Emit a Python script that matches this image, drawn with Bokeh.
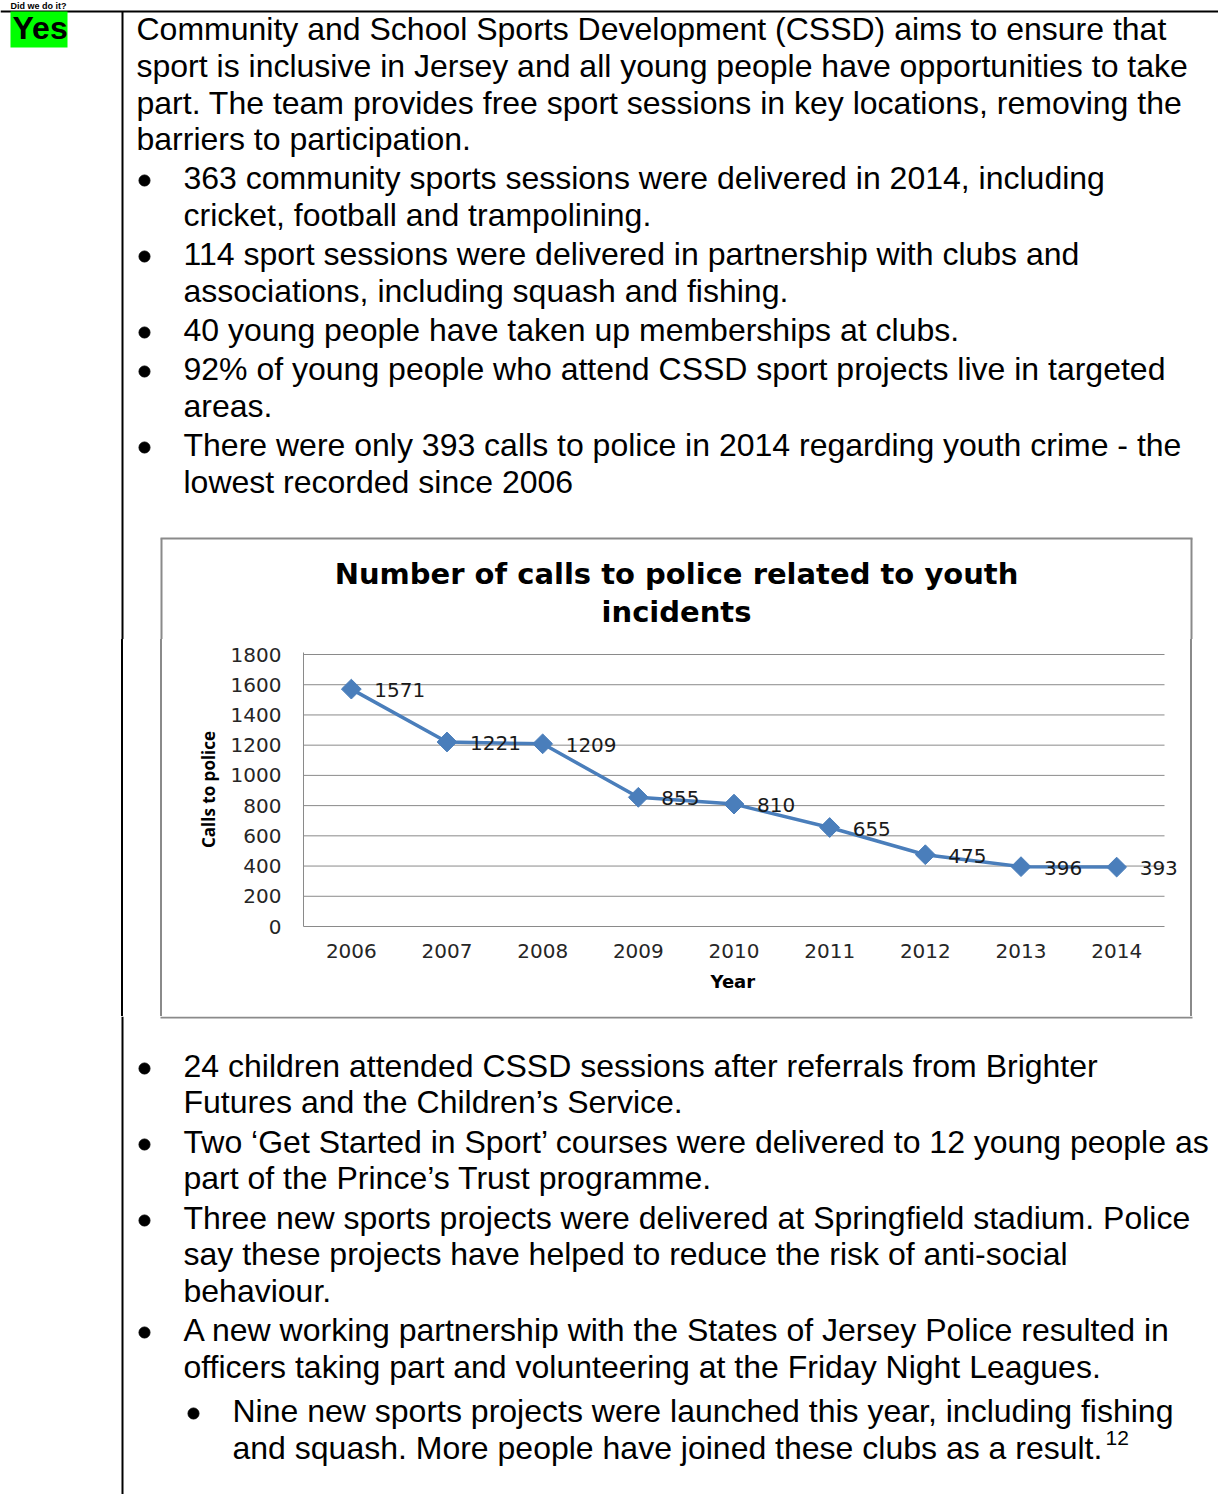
from math import pi
from bokeh.plotting import figure
from bokeh.layouts import column, row
from bokeh.models import Range1d, ColumnDataSource, LabelSet, FixedTicker, Div, Title
from bokeh.core.properties import value
from bokeh.embed import file_html
from bokeh.resources import INLINE

# ---------------- data ----------------
years = ["2006", "2007", "2008", "2009", "2010", "2011", "2012", "2013", "2014"]
calls = [1571, 1221, 1209, 855, 810, 655, 475, 396, 393]
y_ticks = [0, 200, 400, 600, 800, 1000, 1200, 1400, 1600, 1800]
chart_title = ["Number of calls to police related to youth", "incidents"]
x_title = "Year"
y_title = "Calls to police"

heading = "Did we do it?"
verdict = "Yes"
intro_lines = [
    "Community and School Sports Development (CSSD) aims to ensure that",
    "sport is inclusive in Jersey and all young people have opportunities to take",
    "part. The team provides free sport sessions in key locations, removing the",
    "barriers to participation.",
]
bullets_before = [
    ["363 community sports sessions were delivered in 2014, including",
     "cricket, football and trampolining."],
    ["114 sport sessions were delivered in partnership with clubs and",
     "associations, including squash and fishing."],
    ["40 young people have taken up memberships at clubs."],
    ["92% of young people who attend CSSD sport projects live in targeted",
     "areas."],
    ["There were only 393 calls to police in 2014 regarding youth crime - the",
     "lowest recorded since 2006"],
]
bullets_after = [
    ["24 children attended CSSD sessions after referrals from Brighter",
     "Futures and the Children\u2019s Service."],
    ["Two \u2018Get Started in Sport\u2019 courses were delivered to 12 young people as",
     "part of the Prince\u2019s Trust programme."],
    ["Three new sports projects were delivered at Springfield stadium. Police",
     "say these projects have helped to reduce the risk of anti-social",
     "behaviour."],
    ["A new working partnership with the States of Jersey Police resulted in",
     "officers taking part and volunteering at the Friday Night Leagues."],
]
sub_bullet = ["Nine new sports projects were launched this year, including fishing",
              "and squash. More people have joined these clubs as a result."]
footnote = "12"

# ---------------- layout constants (page pixels) ----------------
W = 1218
TOP_H = 639          # page 0 .. 639 (includes chart title)
MID_H = 377          # page 639 .. 1016
BOT_H = 478          # page 1016 .. 1494
BODY_FONT = value("Liberation Sans")
BODY_SIZE = "32px"
RULE = "black"
BOX = "#8a8a8a"
GRID = "#8a8a8a"
BLUE = "#4a7ebb"
CHART_FONT = "DejaVu Sans"

intro_centers = [29, 66, 103, 139]
top_centers = [[178, 215], [254, 291], [330], [369, 406], [445, 482]]
bot_centers = [[1066, 1102], [1142, 1178], [1218, 1254, 1291], [1330, 1367]]
sub_centers = [1411, 1448]


def canvas(w, h, y0=0):
    p = figure(width=w, height=h, x_range=Range1d(0, w), y_range=Range1d(y0 + h, y0),
               output_backend="svg", toolbar_location=None, min_border=0,
               x_axis_type=None, y_axis_type=None)
    p.outline_line_color = None
    p.background_fill_color = "white"
    p.border_fill_color = "white"
    return p


def put_lines(p, xs, ys, texts, bold=False, size=BODY_SIZE, font=BODY_FONT, align="left"):
    src = ColumnDataSource(dict(x=xs, y=[y - 1 for y in ys], t=texts))
    p.text(x="x", y="y", text="t", source=src, text_font=font,
           text_font_size=size, text_baseline="alphabetic", text_align=align,
           text_color="black", text_font_style="bold" if bold else "normal")


def put_bullets(p, xs, ys):
    p.scatter(x=xs, y=ys, marker="circle", size=11, color="black")


def vbar_div(w, h, bars):
    inner = "".join(
        f'<div style="position:absolute;left:{x}px;top:0;width:2px;height:{h}px;'
        f'background:{c}"></div>' for x, c in bars)
    html = f'<div style="position:relative;width:{w}px;height:{h}px;margin:0;padding:0">{inner}</div>'
    return Div(text=html, width=w, height=h, margin=0, styles={"padding": "0", "margin": "0"})


# ---------------- top ----------------
top = canvas(W, TOP_H, 0)
put_lines(top, [10], [6], [heading], bold=True, size="9px")
top.segment(x0=[0], y0=[11], x1=[W], y1=[11], line_width=2, color=RULE)
top.segment(x0=[122], y0=[11], x1=[122], y1=[TOP_H], line_width=2, color=RULE)
top.quad(left=[10], right=[67], top=[11], bottom=[47], fill_color="#00ff00", line_color=None)
put_lines(top, [12], [28], [verdict], bold=True)
put_lines(top, [136] * len(intro_lines), intro_centers, intro_lines)
xs, ys, ts, bx, by = [], [], [], [], []
for item, cl in zip(bullets_before, top_centers):
    bx.append(144)
    by.append(cl[0] + 2)
    for t, y in zip(item, cl):
        xs.append(183); ys.append(y); ts.append(t)
put_lines(top, xs, ys, ts)
put_bullets(top, bx, by)
# chart box (top part) and chart title
top.segment(x0=[160], y0=[538], x1=[1192], y1=[538], line_width=2, color=BOX)
top.segment(x0=[161, 1191], y0=[538, 538], x1=[161, 1191], y1=[TOP_H, TOP_H],
            line_width=2, color=BOX)
put_lines(top, [676, 676], [574, 612], chart_title, bold=True, size="29px",
          font=value(CHART_FONT), align="center")

# ---------------- middle strips ----------------
left = vbar_div(162, MID_H, [(121, RULE), (160, BOX)])
right = vbar_div(28, MID_H, [(0, BOX)])

# ---------------- chart ----------------
CW = 1028                    # page 162 .. 1190
PLOT_L, PLOT_R, CHART_R = 303, 1164, 1190
PLOT_T, PLOT_B = 652, 926    # frame top / bottom (page)
yr = [int(y) for y in years]
band = (PLOT_R - PLOT_L) / len(yr)
x_start = yr[0] - 0.5
x_end = yr[-1] + 0.5 + (CHART_R - PLOT_R) / band
y1800_px = 926 - 654
y_end = y_ticks[-1] * (PLOT_B - PLOT_T) / y1800_px

src = ColumnDataSource(dict(year=yr, calls=calls, label=[str(v) for v in calls]))
chart = figure(width=CW, height=MID_H, x_range=Range1d(x_start, x_end),
               y_range=Range1d(0, y_end), output_backend="svg", toolbar_location=None,
               min_border_left=PLOT_L - 162, min_border_right=0,
               min_border_top=PLOT_T - 639, min_border_bottom=1016 - PLOT_B)
chart.outline_line_color = None
chart.background_fill_color = "white"
chart.border_fill_color = "white"
chart.grid.visible = False
chart.xaxis.ticker = FixedTicker(ticks=yr)
chart.yaxis.ticker = FixedTicker(ticks=y_ticks)
chart.xaxis.bounds = (x_start, yr[-1] + 0.5)

for ax in (chart.xaxis[0], chart.yaxis[0]):
    ax.axis_line_color = GRID
    ax.axis_line_width = 1
    ax.major_tick_line_color = None
    ax.minor_tick_line_color = None
    ax.major_label_text_font = CHART_FONT
    ax.major_label_text_font_size = "20px"
    ax.major_label_text_color = "#262626"
    ax.axis_label_text_font_style = "bold"
    ax.axis_label_text_color = "black"

chart.yaxis.major_label_standoff = 16
chart.yaxis.axis_label = y_title
chart.yaxis.axis_label_text_font = "Open Sans"
chart.yaxis.axis_label_text_font_size = "17px"
chart.yaxis.axis_label_standoff = 8
chart.xaxis.major_label_standoff = 11
# x-axis title: placed below the axis, aligned with the plotted categories
chart.add_layout(Title(text=x_title, align="left", offset=710 - PLOT_L,
                       text_font=CHART_FONT, text_font_size="18px",
                       text_font_style="bold", text_color="black",
                       vertical_align="top", standoff=20), "below")

grid_y = y_ticks[1:]
chart.segment(x0=[x_start] * len(grid_y), x1=[yr[-1] + 0.5] * len(grid_y),
              y0=grid_y, y1=grid_y, line_width=1, color=GRID)
chart.line(x="year", y="calls", source=src, line_width=3.5, color=BLUE)
chart.scatter(x="year", y="calls", source=src, marker="square", angle=pi / 4,
              size=14, color=BLUE)
chart.add_layout(LabelSet(x="year", y="calls", text="label", source=src, x_offset=23,
                          y_offset=-1, text_baseline="middle", text_align="left",
                          text_font=value(CHART_FONT), text_font_size="20px",
                          text_color="#1a1a1a"))

# ---------------- bottom ----------------
bot = canvas(W, BOT_H, 1016)
bot.segment(x0=[122], y0=[1016], x1=[122], y1=[1016 + BOT_H], line_width=2, color=RULE)
bot.segment(x0=[160], y0=[1017], x1=[1192], y1=[1017], line_width=2, color=BOX)
xs, ys, ts, bx, by = [], [], [], [], []
for item, cl in zip(bullets_after, bot_centers):
    bx.append(144)
    by.append(cl[0] + 2)
    for t, y in zip(item, cl):
        xs.append(183); ys.append(y); ts.append(t)
for t, y in zip(sub_bullet, sub_centers):
    xs.append(232); ys.append(y); ts.append(t)
put_lines(bot, xs, ys, ts)
put_bullets(bot, bx, by)
put_bullets(bot, [193], [sub_centers[0] + 2])
put_lines(bot, [1105], [1438], [footnote], size="21px")

layout = column(top, row(left, chart, right, spacing=0), bot, spacing=0)
open("out.html", "w").write(file_html(layout, INLINE))
